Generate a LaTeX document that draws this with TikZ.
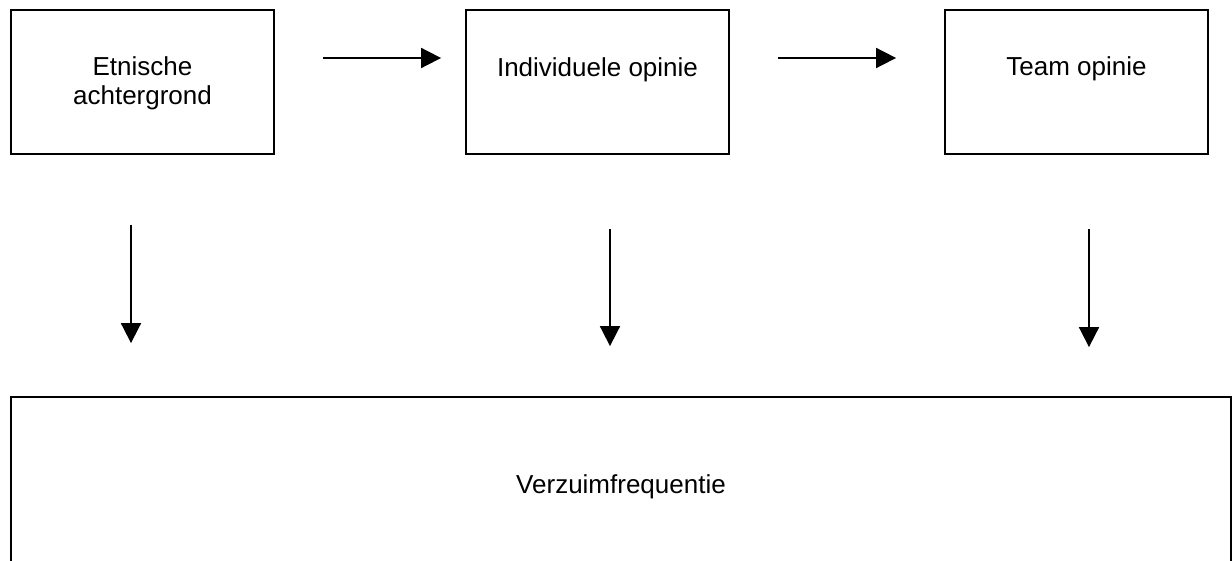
\documentclass[tikz,border=0pt]{standalone}
\usepackage{fontspec}
\setmainfont{Liberation Sans}
\usetikzlibrary{arrows.meta}
\begin{document}
\begin{tikzpicture}[x=1pt,y=-1pt,
  box/.style={draw=black, line width=1.8pt, minimum width=263pt, minimum height=144pt, inner sep=0pt},
  lbl/.style={font=\fontsize{26}{29}\selectfont, inner sep=0pt, anchor=base, align=center},
  arr/.style={line width=1.8pt, -{Triangle[length=20pt,width=20pt]}}]
\useasboundingbox (0,0) rectangle (1232,561);
\node[box] (b1) at (142.5,82) {};
\node[box] (b2) at (597.5,82) {};
\node[box] (b3) at (1076.5,82) {};
\node[box, minimum width=1220pt, minimum height=180pt] (bot) at (621,487) {};
\node[lbl] (t1) at (142.5,105) {Etnische\\achtergrond};
\node[lbl] (t2) at (597.5,77) {Individuele opinie};
\node[lbl] (t3) at (1076.5,76) {Team opinie};
\node[lbl] (t4) at (621,493) {Verzuimfrequentie};
\draw[arr, shorten <=48pt, shorten >=24pt] ([yshift=24pt]b1.east) -- ([yshift=24pt]b2.west);
\draw[arr, shorten <=48pt, shorten >=48pt] ([yshift=24pt]b2.east) -- ([yshift=24pt]b3.west);
\draw[arr, shorten <=70pt, shorten >=53pt] ([xshift=-11.5pt]b1.south) -- ([xshift=-11.5pt]b1.south |- bot.north);
\draw[arr, shorten <=74pt, shorten >=50pt] ([xshift=12.5pt]b2.south) -- ([xshift=12.5pt]b2.south |- bot.north);
\draw[arr, shorten <=74pt, shorten >=49pt] ([xshift=12.5pt]b3.south) -- ([xshift=12.5pt]b3.south |- bot.north);
\end{tikzpicture}
\end{document}
